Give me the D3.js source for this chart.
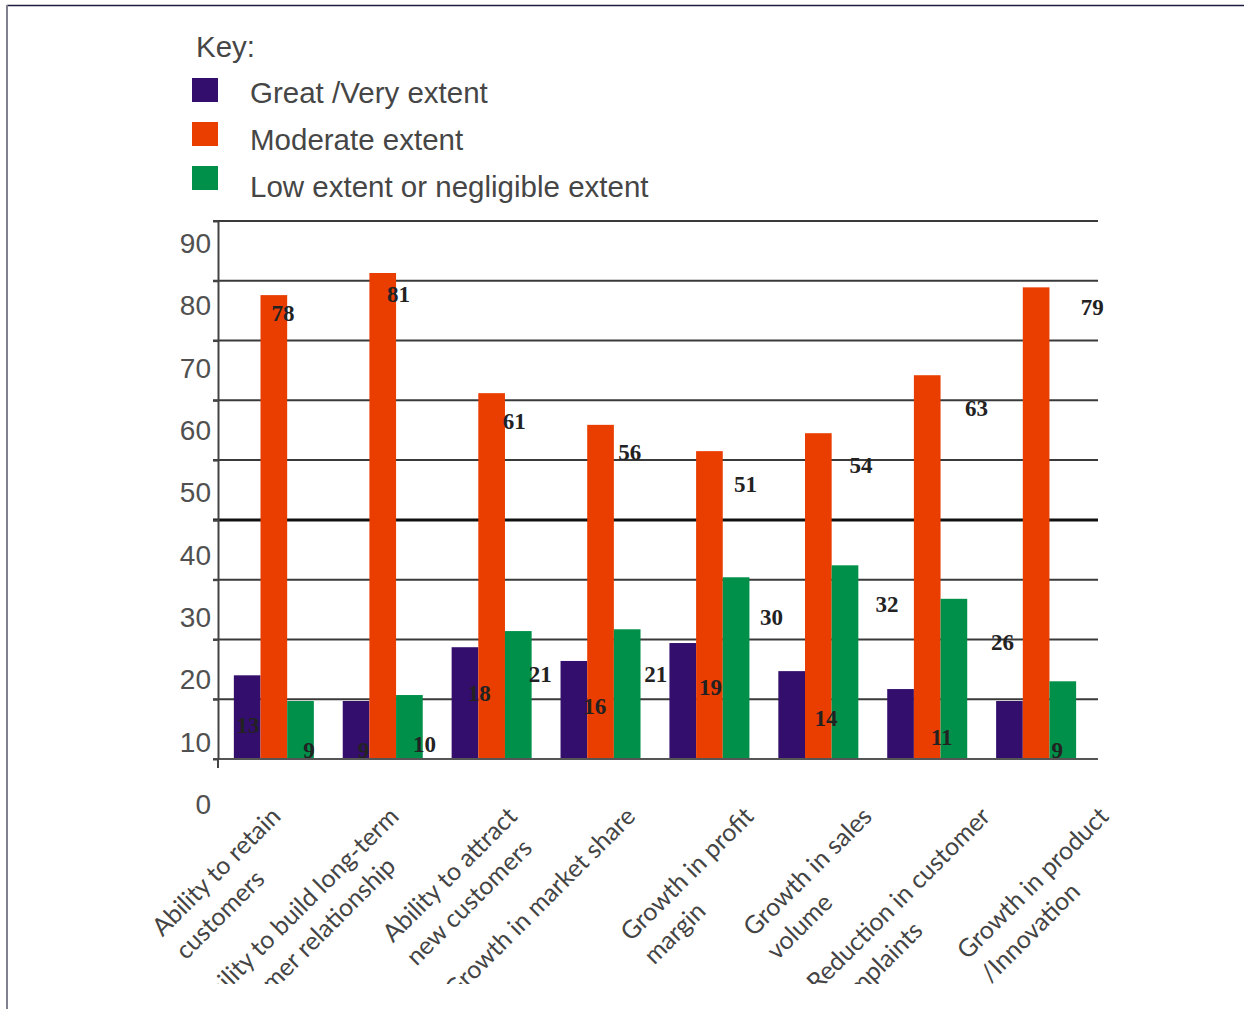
<!DOCTYPE html>
<html>
<head>
<meta charset="utf-8">
<script src="https://cdn.jsdelivr.net/npm/d3@7"></script>
<style>
  html, body { margin: 0; padding: 0; background: #fff; }
  svg { display: block; }
</style>
</head>
<body>
<script>
const categories = [
  "Ability to retain customers",
  "Ability to build long-term customer relationship",
  "Ability to attract new customers",
  "Growth in market share",
  "Growth in profit margin",
  "Growth in sales volume",
  "Reduction in customer complaints",
  "Growth in product /Innovation"
];
const categoryLines = [
  ["Ability to retain", "customers"],
  ["Ability to build long-term", "customer relationship"],
  ["Ability to attract", "new customers"],
  ["Growth in market share"],
  ["Growth in profit", "margin"],
  ["Growth in sales", "volume"],
  ["Reduction in customer", "complaints"],
  ["Growth in product", "/Innovation"]
];
const seriesNames = ["Great /Very extent", "Moderate extent", "Low extent or negligible extent"];
const seriesColors = ["#330e6c", "#ea3d00", "#00904a"];

// bar heights as drawn
const greatValues = [14.0, 9.7, 18.7, 16.4, 19.4, 14.7, 11.7, 9.7];
const moderateValues = [77.6, 81.3, 61.2, 55.9, 51.5, 54.5, 64.2, 78.9];
const lowValues = [9.7, 10.7, 21.4, 21.7, 30.4, 32.4, 26.8, 13.0];

// numbers printed on the chart
const greatLabels = [13, 9, 18, 16, 19, 14, 11, 9];
const moderateLabels = [78, 81, 61, 56, 51, 54, 63, 79];
const lowLabels = [9, 10, 21, 21, 30, 32, 26, null];

const yTicks = [0, 10, 20, 30, 40, 50, 60, 70, 80, 90];
const boldTick = 40;

const width = 1244;
const height = 1009;
const plot = {left: 218, right: 1098, top: 221, bottom: 759};

const series = seriesNames.map((name, i) => ({
  key: i,
  name,
  color: seriesColors[i],
  values: [greatValues, moderateValues, lowValues][i],
  labels: [greatLabels, moderateLabels, lowLabels][i]
}));

const x0 = d3.scaleBand()
  .domain(categories)
  .range([plot.left, plot.right])
  .paddingInner(0.2654)
  .paddingOuter(0.1732)
  .align(0.42);
const x1 = d3.scaleBand().domain(series.map((s) => s.key)).range([0, x0.bandwidth()]);
const y = d3.scaleLinear().domain([0, 90]).range([plot.bottom, plot.top]);

// the printed numbers sit in a slightly stretched frame
const tickLabelY = d3.scaleLinear().domain([0, 90]).range([804, 243]);
const valueLabelY = d3.scaleLinear().domain([0, 90]).range([815, 245]);
const labelX = d3.scaleBand().domain(categories).range([232, 232 + 8 * 115.6]);
const labelOffset = d3.scaleOrdinal().domain(series.map((s) => s.key)).range([16, 51, 77]);
const axisLabelX = d3.scalePoint().domain(categories).range([282, 1110]);
const axisLabelTop = 818;

const svg = d3.create("svg")
  .attr("width", width)
  .attr("height", height)
  .attr("viewBox", [0, 0, width, height]);
document.body.append(svg.node());

svg.append("rect").attr("width", width).attr("height", height).attr("fill", "#fff");

// frame
svg.append("line")
  .attr("x1", 7).attr("x2", width).attr("y1", 5.5).attr("y2", 5.5)
  .attr("stroke", "#1c1c40").attr("stroke-width", 1.5);
svg.append("line")
  .attr("x1", 7).attr("x2", 7).attr("y1", 5).attr("y2", height)
  .attr("stroke", "#80808f").attr("stroke-width", 2);

// legend
const legend = svg.append("g")
  .attr("font-family", "'Liberation Sans', Arial, sans-serif")
  .attr("font-size", 29.5)
  .attr("fill", "#464646");
legend.append("text").attr("x", 196).attr("y", 57).text("Key:");
const legendItem = legend.selectAll("g.item")
  .data(series)
  .join("g")
  .attr("class", "item");
legendItem.append("rect")
  .attr("x", 192)
  .attr("y", (d, i) => 78 + i * 44)
  .attr("width", 26)
  .attr("height", 24)
  .attr("fill", (d) => d.color);
legendItem.append("text")
  .attr("x", 250)
  .attr("y", (d, i) => 103 + i * 47)
  .text((d) => d.name);

// gridlines
svg.append("g")
  .selectAll("line")
  .data(yTicks.filter((v) => v > 0))
  .join("line")
  .attr("x1", plot.left - 5)
  .attr("x2", plot.right)
  .attr("y1", (d) => y(d))
  .attr("y2", (d) => y(d))
  .attr("stroke", (d) => (d === boldTick ? "#111" : "#3a3a3a"))
  .attr("stroke-width", (d) => (d === boldTick ? 3 : 2));

// bars
const groups = svg.append("g")
  .selectAll("g")
  .data(categories)
  .join("g")
  .attr("transform", (d) => `translate(${x0(d)},0)`);
groups.selectAll("rect")
  .data((d, i) => series.map((s) => ({series: s, value: s.values[i]})))
  .join("rect")
  .attr("x", (d) => x1(d.series.key))
  .attr("width", x1.bandwidth())
  .attr("y", (d) => y(d.value))
  .attr("height", (d) => y(0) - y(d.value))
  .attr("fill", (d) => d.series.color);

// baseline and left axis
svg.append("line")
  .attr("x1", plot.left - 5).attr("x2", plot.right)
  .attr("y1", y(0)).attr("y2", y(0))
  .attr("stroke", "#555").attr("stroke-width", 2);
svg.append("g")
  .attr("transform", `translate(${plot.left},0)`)
  .call(d3.axisLeft(y).tickValues(yTicks).tickSize(5).tickSizeOuter(0).tickFormat(""))
  .call((axis) => axis.selectAll("line,path").attr("stroke", "#444").attr("stroke-width", 2));
svg.append("line")
  .attr("x1", plot.left).attr("x2", plot.left)
  .attr("y1", y(0)).attr("y2", y(0) + 9)
  .attr("stroke", "#444").attr("stroke-width", 2);

// tick labels
svg.append("g")
  .attr("font-family", "'Liberation Sans', Arial, sans-serif")
  .attr("font-size", 28)
  .attr("fill", "#505050")
  .attr("text-anchor", "end")
  .selectAll("text")
  .data(yTicks)
  .join("text")
  .attr("x", 211)
  .attr("y", (d) => tickLabelY(d))
  .attr("dy", "0.36em")
  .text((d) => d);

// value labels
svg.append("defs").append("clipPath").attr("id", "label-clip")
  .append("rect").attr("x", 0).attr("y", 0).attr("width", plot.right + 6).attr("height", height);
svg.append("g")
  .attr("clip-path", "url(#label-clip)")
  .attr("font-family", "'Liberation Serif', 'Times New Roman', serif")
  .attr("font-weight", "bold")
  .attr("font-size", 23)
  .attr("fill", "#222")
  .attr("text-anchor", "middle")
  .selectAll("text")
  .data(series.flatMap((s) => categories.map((c, i) => ({series: s, category: c, label: s.labels[i]}))).filter((d) => d.label != null))
  .join("text")
  .attr("x", (d) => labelX(d.category) + labelOffset(d.series.key))
  .attr("y", (d) => valueLabelY(d.label))
  .text((d) => d.label);

// category labels, rotated and clipped at the bottom like the original
svg.select("defs").append("clipPath").attr("id", "axis-clip")
  .append("rect").attr("x", 0).attr("y", 0).attr("width", width).attr("height", 984);
const catLabels = svg.append("g")
  .attr("clip-path", "url(#axis-clip)")
  .attr("font-family", "Lato, 'Open Sans', sans-serif")
  .attr("font-size", 25)
  .attr("fill", "#444")
  .selectAll("g")
  .data(categories)
  .join("g")
  .attr("transform", (d) => `translate(${axisLabelX(d)},${axisLabelTop}) rotate(-45)`);
catLabels.each(function (d, i) {
  const g = d3.select(this);
  const texts = g.selectAll("text")
    .data(categoryLines[i])
    .join("text")
    .attr("y", (line, j) => j * 33)
    .text((line) => line);
  const widest = d3.max(texts.nodes(), (node) => node.getComputedTextLength());
  texts.attr("x", -widest);
});
</script>
</body>
</html>
